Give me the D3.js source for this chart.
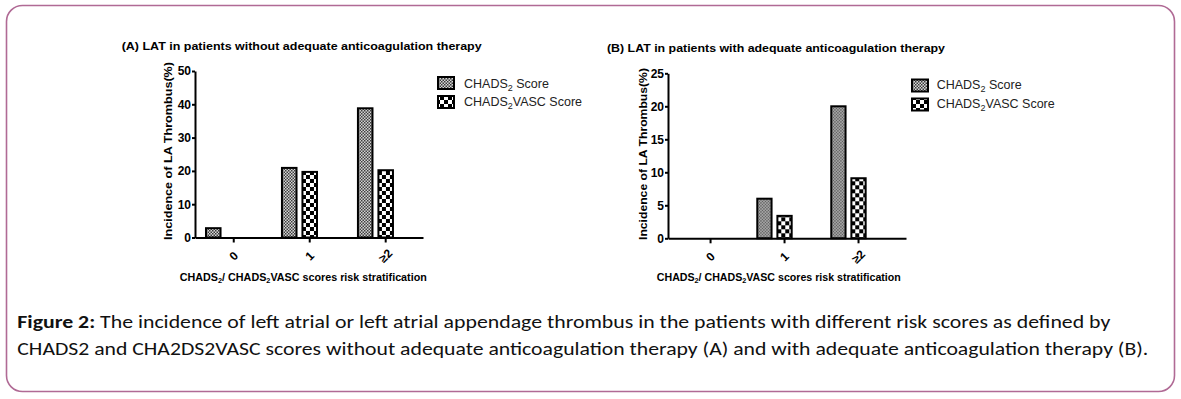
<!DOCTYPE html>
<html>
<head>
<meta charset="utf-8">
<script src="https://cdn.jsdelivr.net/npm/d3@7"></script>
<style>
  html, body { margin: 0; padding: 0; background: #fff; }
  svg { display: block; }
  .axis path, .axis line { stroke: #000; stroke-width: 2; }
  .axis text { font-family: "Liberation Sans", Arial, sans-serif; font-weight: bold; font-size: 12px; fill: #000; }
</style>
</head>
<body>
<div id="chart"></div>
<script>
// Figure 2 – LAT incidence by CHADS2 / CHA2DS2VASC risk group

const categories = ["0", "1", "\u22652"];
const seriesKeys = ["chads2", "vasc"];
const seriesLabels = ["CHADS", "CHADS"]; // subscript 2 + rest added below
const seriesSuffix = [" Score", "VASC Score"];

// (A) without adequate anticoagulation
const chads2A = [2.8, 20.9, 38.8];
const vascA = [0, 19.7, 20.2];
const yTicksA = [0, 10, 20, 30, 40, 50];

// (B) with adequate anticoagulation
const chads2B = [0, 6.0, 20.0];
const vascB = [0, 3.4, 9.1];
const yTicksB = [0, 5, 10, 15, 20, 25];

const titleA = "(A) LAT in patients without adequate anticoagulation therapy";
const titleB = "(B) LAT in patients with adequate anticoagulation therapy";
const yLabel = "Incidence of LA Thrombus(%)";

const captionBold = "Figure 2:";
const captionLine1 = " The incidence of left atrial or left atrial appendage thrombus in the patients with different risk scores as defined by";
const captionLine2 = "CHADS2 and CHA2DS2VASC scores without adequate anticoagulation therapy (A) and with adequate anticoagulation therapy (B).";

const width = 1181;
const height = 399;
const FONT = '"Liberation Sans", Arial, sans-serif';

const svg = d3.select("#chart")
  .append("svg")
  .attr("width", width)
  .attr("height", height);

// outer frame
svg.append("rect")
  .attr("x", 6.5)
  .attr("y", 5.5)
  .attr("width", 1168)
  .attr("height", 386)
  .attr("rx", 16)
  .attr("fill", "#fff")
  .attr("stroke", "#b06a95")
  .attr("stroke-width", 1.6);

// fill patterns
const defs = svg.append("defs");

const patA = defs.append("pattern")
  .attr("id", "pat-chads2")
  .attr("patternUnits", "userSpaceOnUse")
  .attr("width", 3)
  .attr("height", 3);
patA.append("rect").attr("width", 3).attr("height", 3).attr("fill", "#d8d8d8");
patA.append("rect").attr("width", 1.5).attr("height", 1.5).attr("fill", "#3a3a3a");
patA.append("rect").attr("x", 1.5).attr("y", 1.5).attr("width", 1.5).attr("height", 1.5).attr("fill", "#3a3a3a");

const patB = defs.append("pattern")
  .attr("id", "pat-vasc")
  .attr("patternUnits", "userSpaceOnUse")
  .attr("width", 8)
  .attr("height", 8);
patB.append("rect").attr("width", 8).attr("height", 8).attr("fill", "#fff");
patB.append("rect").attr("width", 4).attr("height", 4).attr("fill", "#000");
patB.append("rect").attr("x", 4).attr("y", 4).attr("width", 4).attr("height", 4).attr("fill", "#000");

const fills = { chads2: "url(#pat-chads2)", vasc: "url(#pat-vasc)" };

const panels = [
  {
    title: titleA, titleX: 121.7, titleY: 50, titleLen: 360,
    chads2: chads2A, vasc: vascA, ticks: yTicksA,
    left: 195, top: 71, w: 228, h: 166.5,
    padIn: 0.539, padOut: 0.27, align: 0.268,
    yLabX: 167.5, yLabY: 151, yLabLen: 178,
    xTitleX: 303.3, xTitleLen: 247,
    legX: 438, legY: [77, 96], legTextX: 464, legBase: [87.5, 106.3]
  },
  {
    title: titleB, titleX: 607, titleY: 52.3, titleLen: 338,
    chads2: chads2B, vasc: vascB, ticks: yTicksB,
    left: 668, top: 73.3, w: 238, h: 165,
    padIn: 0.535, padOut: 0.376, align: 0.275,
    yLabX: 642.5, yLabY: 154, yLabLen: 172,
    xTitleX: 778.8, xTitleLen: 244,
    legX: 912, legY: [79.5, 98.5], legTextX: 936.7, legBase: [89.3, 108]
  }
];

panels.forEach(p => {
  const rows = categories.map((c, i) => ({ cat: c, chads2: p.chads2[i], vasc: p.vasc[i] }));

  const g = svg.append("g").attr("transform", `translate(${p.left},${p.top})`);

  const x0 = d3.scaleBand()
    .domain(categories)
    .range([0, p.w])
    .paddingInner(p.padIn)
    .paddingOuter(p.padOut)
    .align(p.align);

  const x1 = d3.scaleBand()
    .domain(seriesKeys)
    .range([0, x0.bandwidth()])
    .paddingInner(0.29);

  const y = d3.scaleLinear()
    .domain([0, d3.max(p.ticks)])
    .range([p.h, 0]);

  // bars
  const groups = g.selectAll("g.grp")
    .data(rows)
    .enter()
    .append("g")
    .attr("class", "grp")
    .attr("transform", d => `translate(${x0(d.cat)},0)`);

  groups.selectAll("rect")
    .data(d => seriesKeys.map(k => ({ key: k, value: d[k] })).filter(v => v.value > 0))
    .enter()
    .append("rect")
    .attr("x", d => x1(d.key))
    .attr("y", d => y(d.value))
    .attr("width", x1.bandwidth())
    .attr("height", d => y(0) - y(d.value))
    .attr("fill", d => fills[d.key])
    .attr("stroke", "#000")
    .attr("stroke-width", 2);

  // y axis
  g.append("g")
    .attr("class", "axis")
    .call(d3.axisLeft(y).tickValues(p.ticks).tickSize(3).tickSizeOuter(0).tickPadding(1));

  // x axis, ticks sit under the second bar of each group
  const xAxisG = g.append("g")
    .attr("class", "axis")
    .attr("transform", `translate(0,${p.h})`)
    .call(d3.axisBottom(x0).tickSize(5).tickSizeOuter(0).tickPadding(0));

  xAxisG.selectAll(".tick")
    .attr("transform", d => `translate(${x0(d) + x1("vasc") + x1.bandwidth() / 2},0)`);

  xAxisG.selectAll(".tick text")
    .attr("y", 0)
    .attr("dy", null)
    .attr("text-anchor", "middle")
    .attr("dominant-baseline", "central")
    .attr("transform", "translate(0,18.5) rotate(-45)");

  // title
  svg.append("text")
    .attr("x", p.titleX)
    .attr("y", p.titleY)
    .attr("font-family", FONT)
    .attr("font-weight", "bold")
    .attr("font-size", 11.5)
    .attr("textLength", p.titleLen)
    .attr("lengthAdjust", "spacingAndGlyphs")
    .text(p.title);

  // y label
  svg.append("text")
    .attr("transform", `translate(${p.yLabX},${p.yLabY}) rotate(-90)`)
    .attr("text-anchor", "middle")
    .attr("dominant-baseline", "central")
    .attr("font-family", FONT)
    .attr("font-weight", "bold")
    .attr("font-size", 11.5)
    .attr("textLength", p.yLabLen)
    .attr("lengthAdjust", "spacingAndGlyphs")
    .text(yLabel);

  // x title with subscripts
  const xt = svg.append("text")
    .attr("x", p.xTitleX)
    .attr("y", 280.7)
    .attr("text-anchor", "middle")
    .attr("font-family", FONT)
    .attr("font-weight", "bold")
    .attr("font-size", 11)
    .attr("textLength", p.xTitleLen)
    .attr("lengthAdjust", "spacingAndGlyphs");
  xt.append("tspan").text("CHADS");
  xt.append("tspan").attr("font-size", 7.5).attr("dy", 2.5).text("2");
  xt.append("tspan").attr("dy", -2.5).text("/ CHADS");
  xt.append("tspan").attr("font-size", 7.5).attr("dy", 2.5).text("2");
  xt.append("tspan").attr("dy", -2.5).text("VASC scores risk stratification");

  // legend
  seriesKeys.forEach((k, i) => {
    svg.append("rect")
      .attr("x", p.legX)
      .attr("y", p.legY[i])
      .attr("width", 16)
      .attr("height", 12)
      .attr("fill", fills[k])
      .attr("stroke", "#000")
      .attr("stroke-width", 2);

    const lt = svg.append("text")
      .attr("x", p.legTextX)
      .attr("y", p.legBase[i])
      .attr("font-family", FONT)
      .attr("font-size", 12.5)
      .attr("fill", "#222");
    lt.append("tspan").text(seriesLabels[i]);
    lt.append("tspan").attr("font-size", 9).attr("dy", 3).text("2");
    lt.append("tspan").attr("dy", -3).text(seriesSuffix[i]);
  });
});

// caption
const CAP_FONT = 'Carlito, "Open Sans", "Noto Sans", sans-serif';

const cap1 = svg.append("text")
  .attr("x", 17.3)
  .attr("y", 327.5)
  .attr("font-family", CAP_FONT)
  .attr("font-size", 17.5)
  .attr("fill", "#111")
  .attr("textLength", 1093)
  .attr("lengthAdjust", "spacingAndGlyphs");
cap1.append("tspan").attr("font-weight", "bold").text(captionBold);
cap1.append("tspan").text(captionLine1);

svg.append("text")
  .attr("x", 17.3)
  .attr("y", 355.3)
  .attr("font-family", CAP_FONT)
  .attr("font-size", 17.5)
  .attr("fill", "#111")
  .attr("textLength", 1131)
  .attr("lengthAdjust", "spacingAndGlyphs")
  .text(captionLine2);
</script>
</body>
</html>
